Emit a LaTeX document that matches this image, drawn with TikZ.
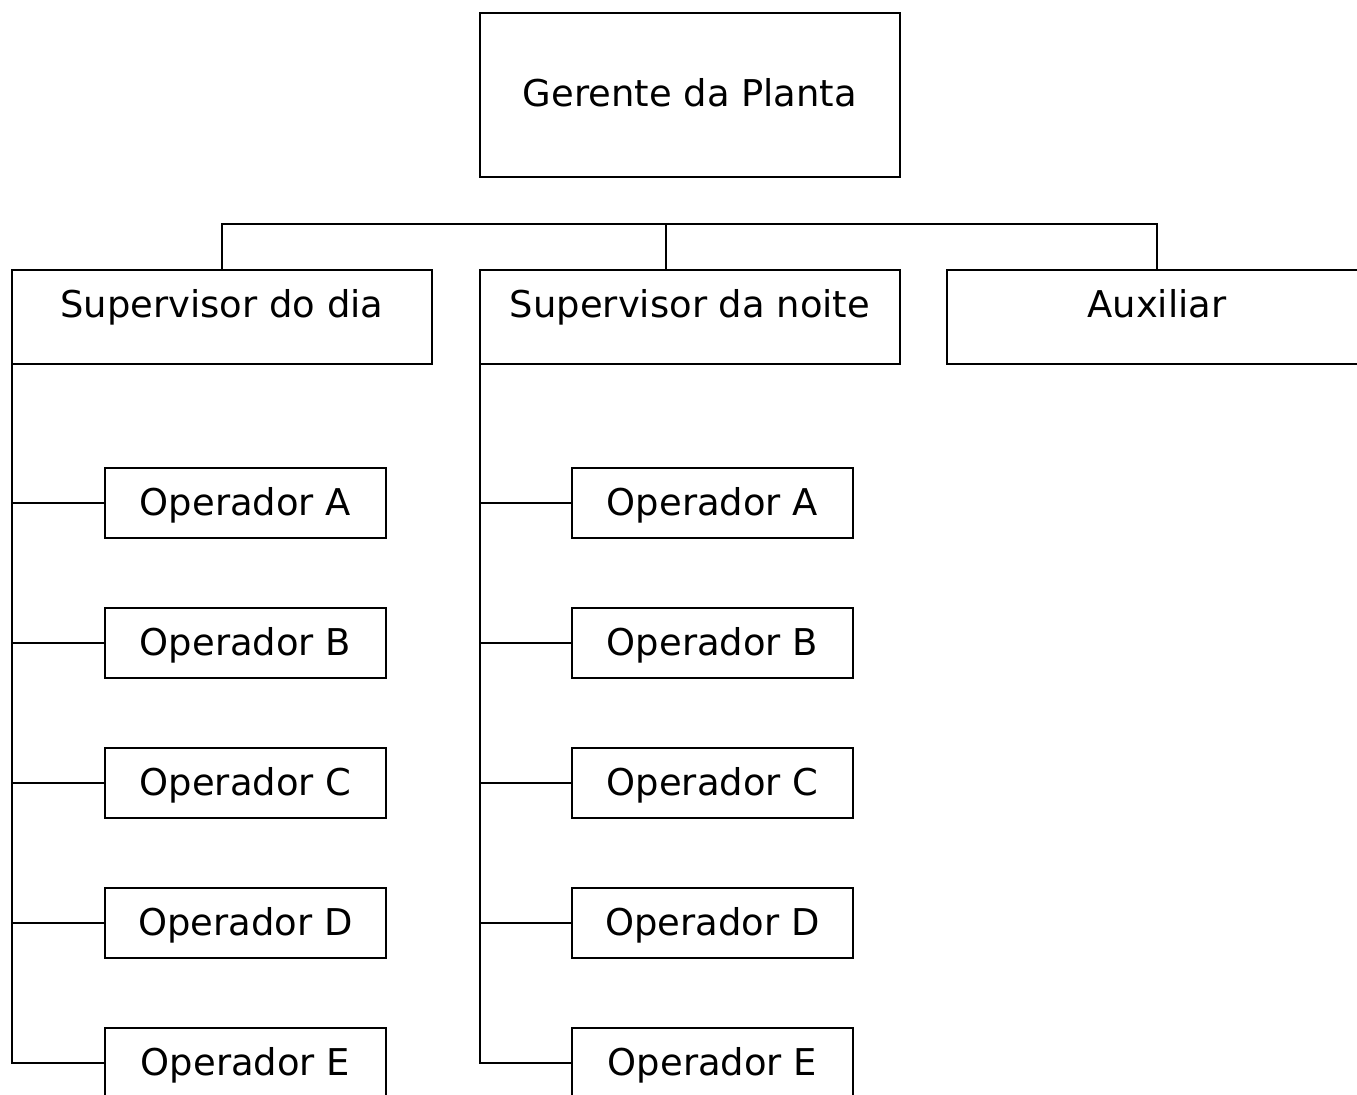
\documentclass[tikz,border=0pt]{standalone}
\usepackage{fontspec}
\setmainfont{DejaVu Sans}

\tikzset{
	cargo/.style={draw, line width=0.6pt, outer sep=0pt, minimum width=4.2cm, font=\fontsize{10.5}{12.6}\selectfont},
	chefe/.style={cargo, minimum height=0.94cm, text height=1.6ex, text depth=1.6ex},
	operador/.style={draw, line width=0.6pt, outer sep=0pt, minimum width=2.81cm, minimum height=0.7cm, text height=1.7ex, text depth=0.45ex, font=\fontsize{10.5}{12.6}\selectfont},
	linha/.style={line width=0.6pt}
}

\begin{document}
\begin{tikzpicture}
	\useasboundingbox (0, 0) rectangle (13.57, -10.94);

	\node[cargo, minimum width=4.2cm, minimum height=1.64cm, text depth=0.3ex] (gerente) at (6.9, -0.95) {Gerente da Planta};

	\node[chefe] (supdia) at (2.22, -3.17) {Supervisor do dia};
	\node[chefe] (supnoite) at (6.9, -3.17) {Supervisor da noite};
	\node[chefe] (aux) at (11.57, -3.17) {Auxiliar};

	\coordinate (barra) at (6.66, -2.24);
	\draw[linha] (supdia.north) |- (barra) -| (aux.north);
	\draw[linha] (barra) -- (barra |- supnoite.north);

	\foreach \letra [count=\i] in {A, B, C, D} {
		\node[operador] (dia\letra) at (2.455, -3.63 - 1.4*\i) {Operador \letra};
		\node[operador] (noite\letra) at (7.125, -3.63 - 1.4*\i) {Operador \letra};
		\draw[linha] (supdia.south west |- dia\letra.west) -- (dia\letra.west);
		\draw[linha] (supnoite.south west |- noite\letra.west) -- (noite\letra.west);
	}
	\node[operador] (diaE) at (2.455, -10.63) {Operador E};
	\node[operador] (noiteE) at (7.125, -10.63) {Operador E};
	\draw[linha] (supdia.south west) |- (diaE.west);
	\draw[linha] (supnoite.south west) |- (noiteE.west);
\end{tikzpicture}
\end{document}
